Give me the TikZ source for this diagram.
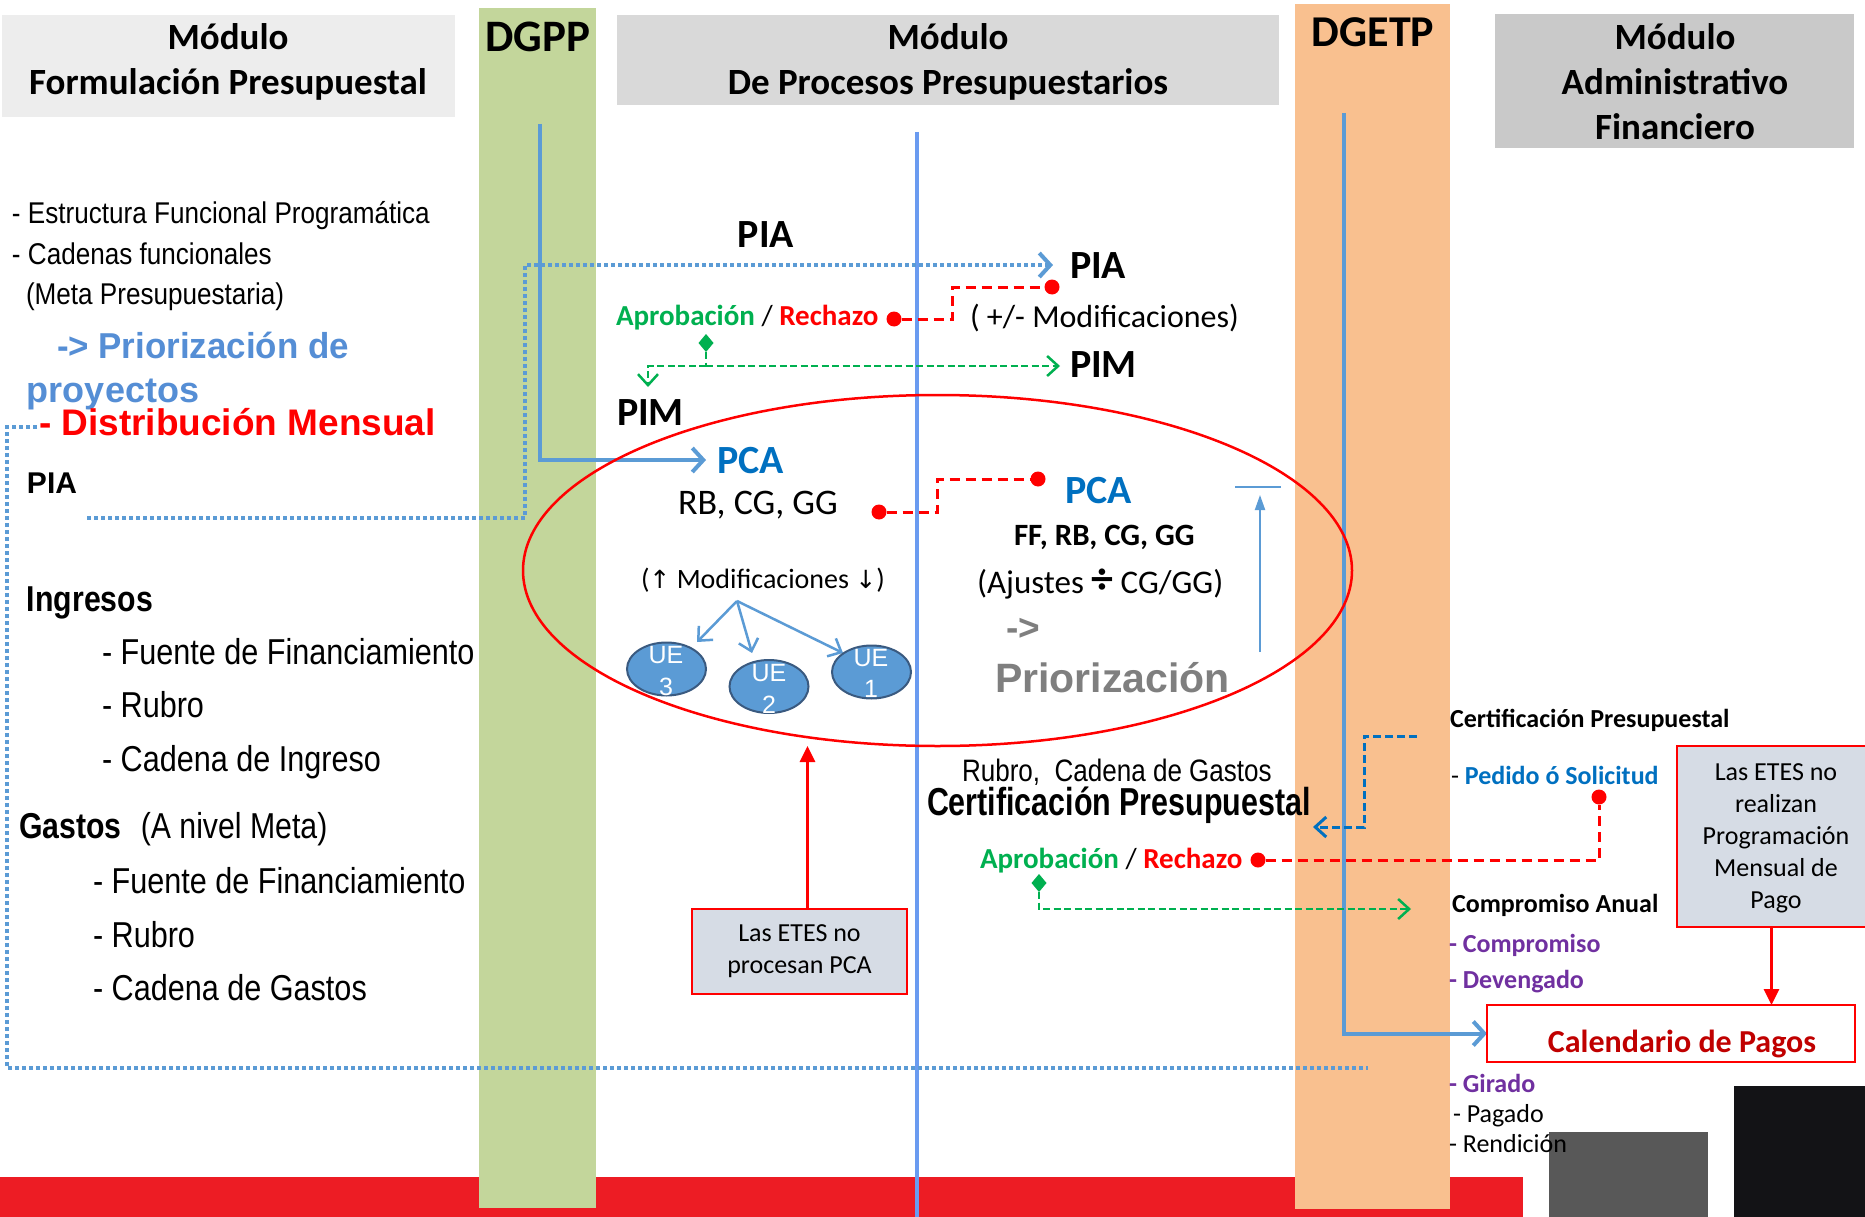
\documentclass[tikz,border=0pt]{standalone}
\usepackage{fontspec}
\setmainfont{Carlito}
\newfontfamily\ar{Liberation Sans}
\newfontfamily\dvs{DejaVu Sans}
\usepackage{graphicx}
\usetikzlibrary{arrows.meta,shapes.geometric,calc}
\pgfdeclarelayer{back}
\pgfdeclarelayer{mid}
\pgfsetlayers{back,mid,main}
\definecolor{hdrA}{HTML}{EDEDED}
\definecolor{hdrB}{HTML}{D9D9D9}
\definecolor{hdrC}{HTML}{C9C9C9}
\definecolor{dgpp}{HTML}{C3D69B}
\definecolor{dgetp}{HTML}{F9C08F}
\definecolor{barred}{HTML}{ED1C24}
\definecolor{lblue}{HTML}{5B9BD5}
\definecolor{vblue}{HTML}{6A9BF0}
\definecolor{tblue}{HTML}{0070C0}
\definecolor{pblue}{HTML}{558ED5}
\definecolor{gr}{HTML}{00B050}
\definecolor{rd}{HTML}{FF0000}
\definecolor{drd}{HTML}{C00000}
\definecolor{pur}{HTML}{7030A0}
\definecolor{gry}{HTML}{7F7F7F}
\definecolor{boxf}{HTML}{D6DCE5}
\definecolor{uef}{HTML}{5B9BD5}
\definecolor{uee}{HTML}{3A5A80}
\definecolor{sqg}{HTML}{585858}
\definecolor{sqb}{HTML}{131316}
\newcommand\fsz[2]{\fontsize{#1}{#2}\selectfont}
\newcommand\nar[2]{\scalebox{#1}[1]{#2}}
\tikzset{
 bgbox/.style={anchor=north west},
 hdr/.style={anchor=base, font=\bfseries\fsz{37}{43}},
 cb/.style={anchor=base west, font=\bfseries\fsz{40}{48}},
 lstA/.style={anchor=base west, font=\ar\fsz{30}{36}},
 lstB/.style={anchor=base west, font=\ar\fsz{36}{43}},
 apr/.style={anchor=base west, font=\bfseries\fsz{29}{35}},
 rc/.style={anchor=base west, font=\bfseries\fsz{26}{32}},
 rcn/.style={anchor=base west, font=\fsz{26}{32}},
 etes/.style={fill=boxf, draw=rd, line width=2.5},
 rdot/.style={circle, fill=rd, minimum size=15},
 gdia/.style={diamond, fill=gr, minimum width=15, minimum height=18},
 ue/.style={ellipse, fill=uef, draw=uee, line width=2, minimum width=79, minimum height=53},
 uet/.style={anchor=base, font=\ar\fsz{25}{30}, text=white},
 bl/.style={draw=lblue, line width=4},
 dotl/.style={draw=lblue, line width=4, dash pattern=on 4pt off 3pt},
 rdash/.style={draw=rd, line width=3, dash pattern=on 10pt off 6pt},
 gdash/.style={draw=gr, line width=2.5, dash pattern=on 7pt off 3.5pt},
 bdash/.style={draw=tblue, line width=3, dash pattern=on 8pt off 4pt},
 rarr/.style={draw=rd, line width=3, -{Triangle[length=16pt,width=15pt]}},
 marr/.style={draw=lblue, line width=2.5, -{Straight Barb[length=11pt,width=20pt]}},
 barbB/.tip={Straight Barb[length=11pt,width=24pt]},
 barbG/.tip={Straight Barb[length=11pt,width=20pt]},
}
\begin{document}
\begin{tikzpicture}[x=1pt,y=-1pt, every node/.style={inner sep=0pt,outer sep=0pt}]
\useasboundingbox (0,0) rectangle (1865,1217);
\begin{pgfonlayer}{back}
\fill[white] (0,0) rectangle (1865,1217);
\node[bgbox, fill=barred, minimum width=1523, minimum height=41] (rbar) at (0,1177) {};
\node[bgbox, fill=sqg, minimum width=159, minimum height=86] (sqG) at (1549,1132) {};
\node[bgbox, fill=sqb, minimum width=132, minimum height=132] (sqB) at (1734,1086) {};
\node[bgbox, fill=hdrA, minimum width=453, minimum height=102] (hbL) at (2,15) {};
\node[bgbox, fill=hdrB, minimum width=662, minimum height=90] (hbM) at (617,15) {};
\node[bgbox, fill=hdrC, minimum width=359, minimum height=134] (hbR) at (1495,14) {};
\node[bgbox, fill=dgpp, minimum width=117, minimum height=1200] (bDGPP) at (479,8) {};
\node[bgbox, fill=dgetp, minimum width=155, minimum height=1205] (bDGETP) at (1295,4) {};
\end{pgfonlayer}

% ---------- headers
\node[hdr] (hL1) at (228,50) {Módulo};
\node[hdr] (hL2) at (228,95) {Formulación Presupuestal};
\node[hdr] (hM1) at (948,50) {Módulo};
\node[hdr] (hM2) at (948,95) {De Procesos Presupuestarios};
\node[hdr] (hR1) at (1675,50) {Módulo};
\node[hdr] (hR2) at (1675,95) {Administrativo};
\node[hdr] (hR3) at (1675,140) {Financiero};
\node[anchor=base, font=\bfseries\fsz{45}{50}] (tDGPP) at (538,52) {DGPP};
\node[anchor=base, font=\bfseries\fsz{44}{50}] (tDGETP) at (1373,47) {DGETP};

% ---------- left column
\node[lstA] (efp) at (12,223) {\nar{0.87}{- Estructura Funcional Programática}};
\node[lstA] (cfn) at (12,264) {\nar{0.87}{- Cadenas funcionales}};
\node[lstA] (mpr) at (26,304) {\nar{0.87}{(Meta Presupuestaria)}};
\node[anchor=base west, font=\ar\bfseries\fsz{36}{43}, text=pblue] (prio1) at (57,358) {\nar{0.97}{-> Priorización de}};
\node[anchor=base west, font=\ar\bfseries\fsz{36}{43}, text=pblue] (prio2) at (27,402) {proyectos};
\node[anchor=base west, font=\ar\bfseries\fsz{37}{43}, text=rd] (distM) at (39,435) {- Distribución Mensual};
\node[anchor=base west, font=\ar\bfseries\fsz{30}{36}] (piaL) at (27,493) {PIA};
\node[lstB] (ingr) at (27,611) {\nar{0.84}{\bfseries Ingresos}};
\node[lstB] (i1) at (102,664) {\nar{0.85}{- Fuente de Financiamiento}};
\node[lstB] (i2) at (102,717) {\nar{0.85}{- Rubro}};
\node[lstB] (i3) at (102,771) {\nar{0.85}{- Cadena de Ingreso}};
\node[lstB] (gas) at (19,838) {\nar{0.84}{\textbf{Gastos}\hspace{23pt}(A nivel Meta)}};
\node[lstB] (g1) at (93,893) {\nar{0.85}{- Fuente de Financiamiento}};
\node[lstB] (g2) at (93,947) {\nar{0.85}{- Rubro}};
\node[lstB] (g3) at (93,1000) {\nar{0.85}{- Cadena de Gastos}};

% ---------- middle
\node[anchor=base, font=\bfseries\fsz{40}{48}] (piaT) at (766,247) {PIA};
\node[cb] (piaR) at (1070,278) {PIA};
\node[apr] (apr1) at (616,325) {\textcolor{gr}{Aprobación} {\mdseries /} \textcolor{rd}{Rechazo}};
\node[anchor=base west, font=\fsz{32}{38}] (modif) at (970,327) {( +/- Modificaciones)};
\node[cb] (pimR) at (1070,377) {PIM};
\node[cb] (pimL) at (617,425) {PIM};
\node[cb, text=tblue] (pcaL) at (717,473) {PCA};
\node[anchor=base west, font=\fsz{36}{42}] (rbcg) at (678,514) {RB, CG, GG};
\node[cb, text=tblue] (pcaR) at (1065,503) {PCA};
\node[anchor=base west, font=\bfseries\fsz{31}{36}] (ffrb) at (1014,545) {FF, RB, CG, GG};
\node[anchor=base west, font=\fsz{33}{38}] (ajus) at (977,593) {(Ajustes {\bfseries\fsz{44}{44}÷} CG/GG)};
\node[anchor=base west, font=\ar\bfseries\fsz{37}{42}, text=gry] (arrG) at (1006,640) {->};
\node[anchor=base west, font=\ar\bfseries\fsz{41}{46}, text=gry] (prioG) at (995,692) {Priorización};
\node[anchor=base west, font=\fsz{28}{34}] (modUD) at (641,588) {({\dvs\fsz{25}{30}↑} Modificaciones {\dvs\fsz{25}{30}↓})};

\node[draw=rd, line width=2.5, ellipse, minimum width=829, minimum height=351] (big) at (937.5,570.5) {};

\node[ue] (ue3) at (666.5,669) {};
\node[ue] (ue2) at (769,686.5) {};
\node[ue] (ue1) at (871.5,672) {};
\node[uet] (ue3a) at (666,663) {UE};
\node[uet] (ue3b) at (666,695) {3};
\node[uet] (ue2a) at (769,681) {UE};
\node[uet] (ue2b) at (769,713) {2};
\node[uet] (ue1a) at (871,666) {UE};
\node[uet] (ue1b) at (871,697) {1};

\node[anchor=base west, font=\ar\fsz{31}{36}] (rubro) at (962,781) {\nar{0.84}{Rubro,\ \ Cadena de Gastos}};
\node[anchor=base west, font=\ar\bfseries\fsz{39}{44}] (certB) at (927,815) {\nar{0.78}{Certificación Presupuestal}};
\node[apr] (apr2) at (980,868) {\textcolor{gr}{Aprobación} {\mdseries /} \textcolor{rd}{Rechazo}};

\node[etes, minimum width=215, minimum height=85, align=center, font=\fsz{26}{32}] (pcaBox) at (799.5,951.5) {Las ETES no\\procesan PCA};

% ---------- right column
\node[rc] (certS) at (1450,727) {Certificación Presupuestal};
\node[rc] (ped) at (1451,784) {{\mdseries -} \textcolor{tblue}{Pedido ó Solicitud}};
\node[rc] (compA) at (1452,912) {Compromiso Anual};
\node[rc, text=pur] (comp) at (1449,952) {- Compromiso};
\node[rc, text=pur] (dev) at (1449,988) {- Devengado};
\node[rc, text=pur] (gir) at (1449,1092) {- Girado};
\node[rcn] (pag) at (1453,1122) {- Pagado};
\node[rcn] (ren) at (1449,1152) {- Rendición};

\node[etes, minimum width=189, minimum height=181] (etesR) at (1771.5,836.5) {};
\node[align=center, font=\fsz{26}{32}] (etesT) at (1776,838) {Las ETES no\\realizan\\Programación\\Mensual de\\Pago};
\node[draw=rd, fill=white, line width=2.5, minimum width=368, minimum height=57] (calBox) at (1671,1033.5) {};
\node[anchor=base, font=\bfseries\fsz{32}{38}, text=drd] (calT) at (1682,1052) {Calendario de Pagos};

% dots and diamonds
\node[rdot] (dotA) at (894,319) {};
\node[rdot] (dotB) at (1052,287) {};
\node[rdot] (dotC) at (1258,860) {};
\node[rdot] (dotD) at (1599,797) {};
\node[rdot] (dotE) at (879,512) {};
\node[rdot] (dotF) at (1038,479) {};
\node[gdia] (dmA) at (706,343) {};
\node[gdia] (dmB) at (1039,883) {};

% free ends / turning points
\coordinate (vTop) at (917,132);
\coordinate (vBot) at (917,1217);
\coordinate (dgppTop) at (540,124);
\coordinate (dgetpTop) at (1344,113);
\coordinate (piaS) at (87,518);
\coordinate (piaTurn) at (525,300);
\coordinate (distS) at (37,427);
\coordinate (distC) at (7,1068);
\coordinate (distE) at (1368,1068);
\coordinate (rT1) at (952,300);
\coordinate (rT2) at (937,495);
\coordinate (gJ) at (706,366);
\coordinate (gL) at (648,366);
\coordinate (gR) at (1060,366);
\coordinate (gDown) at (648,387);
\coordinate (gEnd) at (1411,909);
\coordinate (cS) at (1417,736);
\coordinate (cT) at (1364,780);
\coordinate (cE) at (1313,827);
\coordinate (modS) at (737,601);
\coordinate (t3) at (697,642);
\coordinate (t2) at (752,653);
\coordinate (t1) at (843,653);
\coordinate (upS) at (1260,652);
\coordinate (upE) at (1260,495);
\coordinate (barL) at (1235,487);
\coordinate (barR) at (1281,487);

\begin{pgfonlayer}{mid}
\draw[draw=vblue, line width=3.5] (vTop) -- (vBot);
\draw[bl, -{barbB}] (dgppTop) |- ([xshift=-11pt]pcaL.west);
\draw[bl, -{barbB}] (dgetpTop) |- (calBox.west);
\draw[dotl, -{barbB}] (piaS) -| (piaTurn) |- ([xshift=-17pt]piaR.west);
\draw[dotl] (distS) -| (distC) -- (distE);
\draw[rdash] (dotA) -| (rT1) |- (dotB);
\draw[rdash] (dotE) -| (rT2) |- (dotF);
\draw[rdash] (dotC) -| (dotD);
\draw[gdash] (dmA) -- (gJ);
\draw[gdash, -{barbG}] (gJ) -- (gR);
\draw[gdash, -{barbG}] (gJ) -- (gL) -- (gDown);
\draw[gdash, -{barbG}] (dmB) |- (gEnd);
\draw[bdash, -{barbG}] (cS) -| (cT) |- (cE);
\draw[marr] (modS) -- (t3);
\draw[marr] (modS) -- (t2);
\draw[marr] (modS) -- (t1);
\draw[draw=lblue, line width=2, -{Triangle[length=15pt,width=10pt]}] (upS) -- (upE);
\draw[draw=lblue, line width=1.5] (barL) -- (barR);
\draw[rarr] ([xshift=8pt]pcaBox.north) -- ([xshift=8pt]pcaBox.north |- big.south);
\draw[rarr] (etesR.south) -- (etesR.south |- calBox.north);
\end{pgfonlayer}
\end{tikzpicture}
\end{document}
